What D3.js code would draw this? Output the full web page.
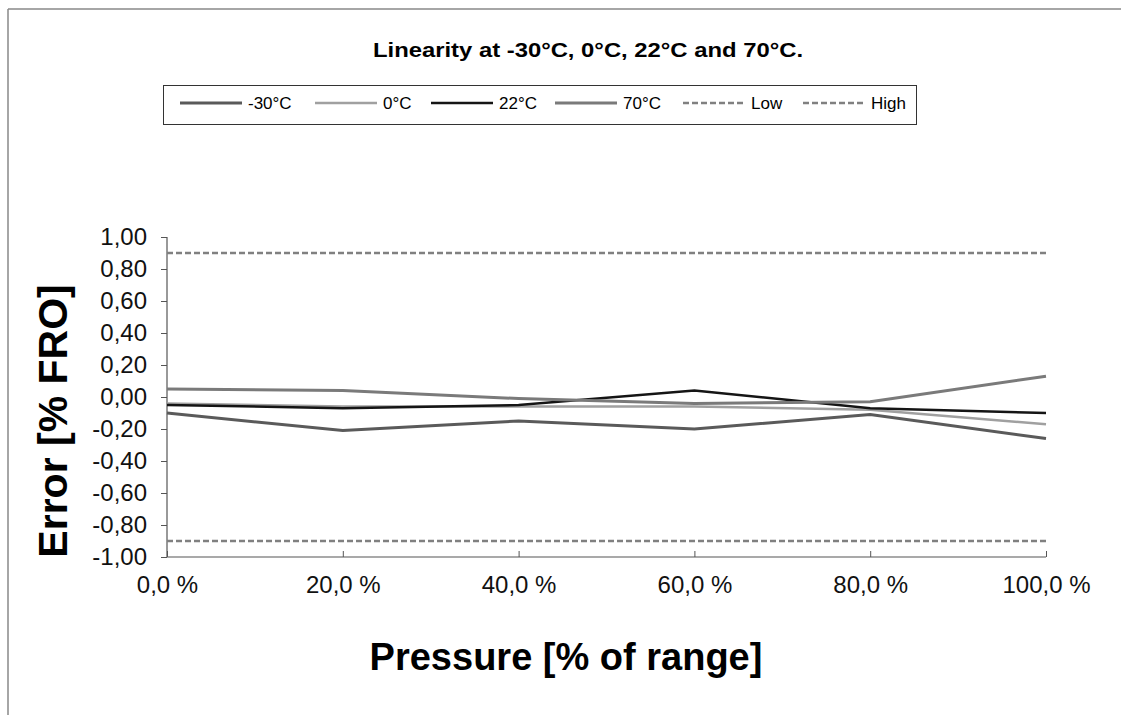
<!DOCTYPE html>
<html>
<head>
<meta charset="utf-8">
<script src="https://cdn.jsdelivr.net/npm/d3@7"></script>
<style>
  body { margin: 0; background: #fff; }
  svg { font-family: "Liberation Sans", Arial, sans-serif; }
</style>
</head>
<body>
<div id="chart"></div>
<script>
// pressure points (% of range)
var pressure = [0, 20, 40, 60, 80, 100];
var xTicks = [0, 20, 40, 60, 80, 100];
var yTicks = [1, 0.8, 0.6, 0.4, 0.2, 0, -0.2, -0.4, -0.6, -0.8, -1];

// error values [% FRO]
var minus30 = [-0.10, -0.21, -0.15, -0.20, -0.11, -0.26];
var zero = [-0.04, -0.06, -0.06, -0.06, -0.08, -0.17];
var t22 = [-0.05, -0.07, -0.05, 0.04, -0.07, -0.10];
var t70 = [0.05, 0.04, -0.01, -0.04, -0.03, 0.13];
var low = [-0.90, -0.90, -0.90, -0.90, -0.90, -0.90];
var high = [0.90, 0.90, 0.90, 0.90, 0.90, 0.90];

var seriesNames = ["-30°C", "0°C", "22°C", "70°C", "Low", "High"];

var W = 1121, H = 715;
var margin = {top: 237, right: 75, bottom: 158, left: 167},
    width = W - margin.left - margin.right,
    height = H - margin.top - margin.bottom;

var root = d3.select("#chart").append("svg")
    .attr("width", W)
    .attr("height", H);

// page frame (scan edges)
root.append("line").attr("x1", 8).attr("x2", W).attr("y1", 9).attr("y2", 9)
    .attr("stroke", "#888").attr("stroke-width", 1.5);
root.append("line").attr("x1", 8).attr("x2", 8).attr("y1", 9).attr("y2", H)
    .attr("stroke", "#888").attr("stroke-width", 1.5);

// title
root.append("text")
    .attr("x", 373).attr("y", 57)
    .attr("textLength", 430).attr("lengthAdjust", "spacingAndGlyphs")
    .style("font-weight", "bold").style("font-size", "20px")
    .text("Linearity at -30°C, 0°C, 22°C and 70°C.");

var svg = root.append("g")
    .attr("transform", "translate(" + margin.left + "," + margin.top + ")");

var x = d3.scaleLinear().domain([0, 100]).range([0, width]);
var y = d3.scaleLinear().domain([-1, 1]).range([height, 0]);

var fmtY = function(d) { return d3.format(".2f")(d).replace(".", ",").replace("−", "-"); };
var fmtX = function(d) { return d3.format(".1f")(d).replace(".", ",") + " %"; };

// axes
var yAxis = svg.append("g")
    .call(d3.axisLeft(y).tickValues(yTicks).tickFormat(fmtY).tickSize(6).tickPadding(14));
var xAxis = svg.append("g")
    .attr("transform", "translate(0," + height + ")")
    .call(d3.axisBottom(x).tickValues(xTicks).tickFormat(fmtX).tickSize(-6).tickPadding(14));

[yAxis, xAxis].forEach(function(a) {
  a.select(".domain").attr("stroke", "#555").attr("stroke-width", 1.2);
  a.selectAll(".tick line").attr("stroke", "#555");
  a.selectAll("text").style("font-size", "24px").attr("fill", "#111");
});
yAxis.select(".domain").attr("d", "M0,0V" + height);
xAxis.select(".domain").attr("d", "M0,0H" + width);
xAxis.selectAll(".tick line").attr("y2", -6);
xAxis.selectAll("text").attr("dy", "0.92em");

// axis titles
root.append("text")
    .attr("transform", "translate(67,421) rotate(-90)")
    .attr("text-anchor", "middle")
    .style("font-weight", "bold").style("font-size", "41px")
    .text("Error [% FRO]");
root.append("text")
    .attr("x", 566).attr("y", 670)
    .attr("text-anchor", "middle")
    .style("font-weight", "bold").style("font-size", "38px")
    .text("Pressure [% of range]");

var styles = [
  {data: minus30, color: "#5a5a5a", w: 3, dash: null},
  {data: zero, color: "#a0a0a0", w: 2.5, dash: null},
  {data: t22, color: "#151515", w: 2.5, dash: null},
  {data: t70, color: "#7a7a7a", w: 3, dash: null},
  {data: low, color: "#808080", w: 2.5, dash: "6,3"},
  {data: high, color: "#808080", w: 2.5, dash: "6,3"}
];

var line = d3.line()
    .x(function(d, i) { return x(pressure[i]); })
    .y(function(d) { return y(d); });

styles.forEach(function(s) {
  svg.append("path")
    .datum(s.data)
    .attr("fill", "none")
    .attr("stroke", s.color)
    .attr("stroke-width", s.w)
    .attr("stroke-dasharray", s.dash)
    .attr("d", line);
});

// legend
var legend = root.append("g");
legend.append("rect")
    .attr("x", 163.5).attr("y", 85.5).attr("width", 753).attr("height", 39)
    .attr("fill", "#fff").attr("stroke", "#333").attr("stroke-width", 1);
var legX = [180, 315, 431, 555, 683, 803];
seriesNames.forEach(function(name, i) {
  var s = styles[i];
  legend.append("line")
    .attr("x1", legX[i]).attr("x2", legX[i] + 62)
    .attr("y1", 103).attr("y2", 103)
    .attr("stroke", s.color).attr("stroke-width", s.w)
    .attr("stroke-dasharray", s.dash);
  legend.append("text")
    .attr("x", legX[i] + 68).attr("y", 109)
    .style("font-size", "17px")
    .text(name);
});
</script>
</body>
</html>
